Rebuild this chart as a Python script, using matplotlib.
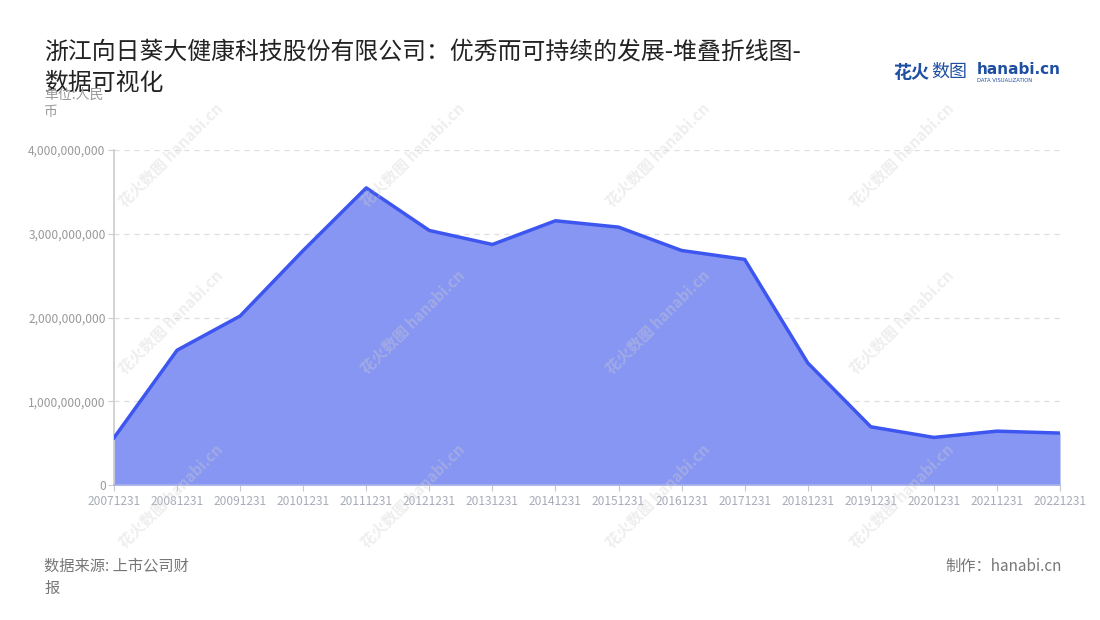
import matplotlib
matplotlib.use("Agg")
import matplotlib.pyplot as plt
from matplotlib.ticker import FuncFormatter

plt.rcParams['font.family'] = ['Noto Sans CJK SC', 'DejaVu Sans']

# Data (RMB)
dates = ["20071231", "20081231", "20091231", "20101231", "20111231", "20121231",
         "20131231", "20141231", "20151231", "20161231", "20171231", "20181231",
         "20191231", "20201231", "20211231", "20221231"]
values = [0.564e9, 1.609e9, 2.018e9, 2.80e9, 3.548e9, 3.039e9,
          2.872e9, 3.155e9, 3.079e9, 2.80e9, 2.694e9, 1.458e9,
          0.695e9, 0.568e9, 0.643e9, 0.620e9]
y_ticks = [0, 1e9, 2e9, 3e9, 4e9]

title = "浙江向日葵大健康科技股份有限公司：优秀而可持续的发展-堆叠折线图-\n数据可视化"

fig = plt.figure(figsize=(11, 6.2), dpi=100)
ax = fig.add_axes([114 / 1100, (620 - 485) / 620, (1060 - 114) / 1100, 335 / 620])

x = list(range(len(dates)))
ax.fill_between(x, values, 0, color="#8796f2", lw=0, zorder=2)
ax.plot(x, values, color="#3d56ef", lw=2.5, zorder=3, solid_joinstyle="round")

ax.set_xlim(0, len(dates) - 1)
ax.set_ylim(0, 4e9)
ax.set_xticks(x)
ax.set_xticklabels(dates)
ax.set_yticks(y_ticks)
ax.yaxis.set_major_formatter(FuncFormatter(lambda v, p: f"{int(v):,}"))
ax.tick_params(axis="x", colors="#c4c8d4", labelcolor="#a8acb8", labelsize=8.6, length=4, pad=3)
ax.tick_params(axis="y", colors="#cccccc", labelcolor="#999999", labelsize=8.6, length=4, pad=2)
ax.grid(axis="y", color="#dddddd", ls=(0, (4, 4)), lw=0.9, zorder=1)
for s in ["top", "right"]:
    ax.spines[s].set_visible(False)
ax.spines["left"].set_color("#cccccc")
ax.spines["left"].set_linewidth(1.2)
ax.spines["bottom"].set_color("#a9b2e8")
ax.spines["bottom"].set_linewidth(1.2)

# Watermarks
for wx in [0.155, 0.375, 0.598, 0.82]:
    for wy in [0.75, 0.48, 0.2]:
        fig.text(wx, wy, "花火数图 hanabi.cn", rotation=45, fontsize=11, color="#d0d0d0",
                 alpha=0.35, ha="center", va="center", fontweight="bold", zorder=5)

# Title and labels
fig.text(44 / 1100, 1 - 41 / 620, title, fontsize=17.2, color="#222222",
         ha="left", va="top", linespacing=1.45)
fig.text(44 / 1100, 1 - 88 / 620, "单位:人民\n币", fontsize=10, color="#9a9a9a",
         ha="left", va="top", linespacing=1.3)

# Logo
fig.text(893 / 1100, 1 - 72 / 620, "花火", fontsize=13, color="#1f4fa3",
         fontweight="bold", ha="left", va="center")
fig.text(931 / 1100, 1 - 72 / 620, "数图", fontsize=13, color="#1f4fa3",
         ha="left", va="center")
fig.text(977 / 1100, 1 - 69 / 620, "hanabi.cn", fontsize=11, color="#1f4fa3",
         fontweight="bold", ha="left", va="center", family="DejaVu Sans")
fig.text(977 / 1100, 1 - 80 / 620, "DATA VISUALIZATION", fontsize=3.8, color="#1f4fa3",
         ha="left", va="center", family="DejaVu Sans")

# Footer
fig.text(44 / 1100, 1 - 558 / 620, "数据来源: 上市公司财\n报", fontsize=11, color="#777777",
         ha="left", va="top", linespacing=1.35)
fig.text(1062 / 1100, 1 - 558 / 620, "制作：hanabi.cn", fontsize=11, color="#777777",
         ha="right", va="top")

fig.savefig("out.png", dpi=100)
